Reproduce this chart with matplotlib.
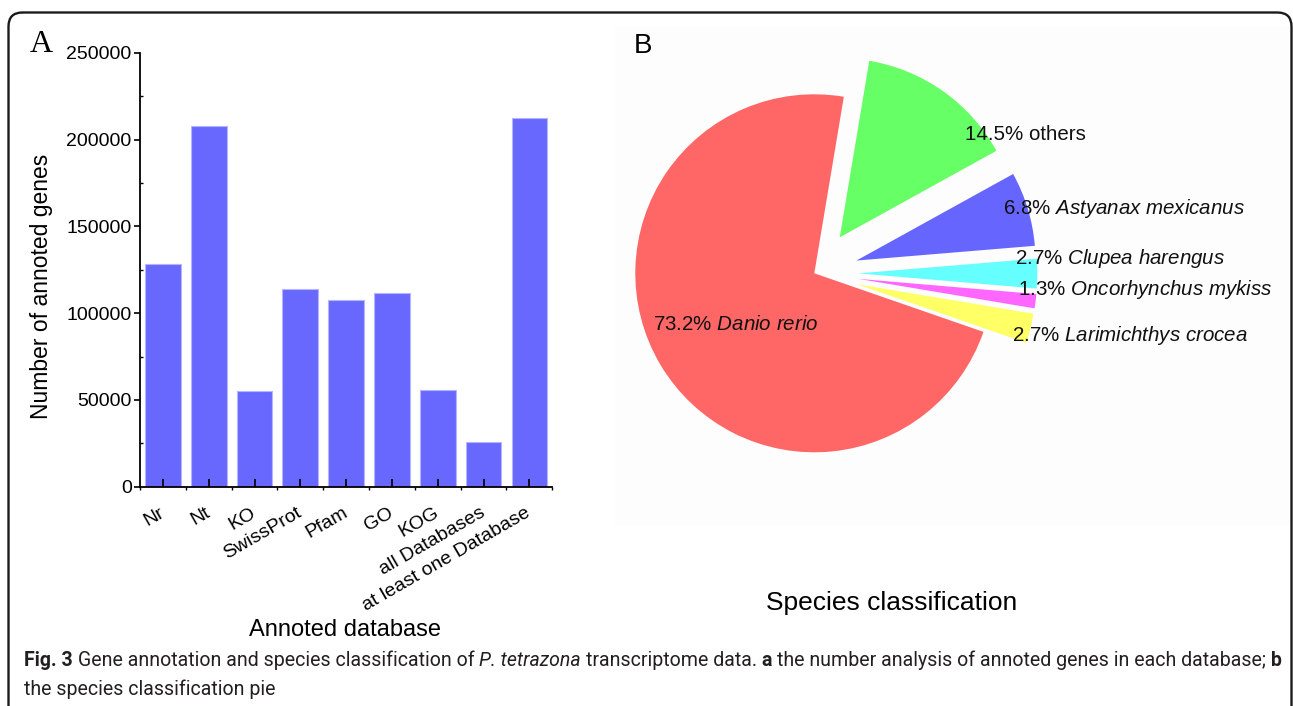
import matplotlib
matplotlib.use("Agg")
import matplotlib.pyplot as plt
from matplotlib import font_manager
from matplotlib.patches import FancyBboxPatch
from matplotlib.ticker import FixedLocator, MultipleLocator

# annotation counts per database
databases = ["Nr", "Nt", "KO", "SwissProt", "Pfam", "GO", "KOG",
             "all Databases", "at least one Database"]
gene_counts = [128100, 207800, 55000, 113900, 107500, 111400, 55500,
               25800, 212600]

# species classification (percent of annotated unigenes)
species = ["others", "Astyanax mexicanus", "Clupea harengus",
           "Oncorhynchus mykiss", "Larimichthys crocea", "Danio rerio"]
species_pct = [14.5, 6.8, 2.7, 1.3, 2.7, 73.2]
species_italic = [False, True, True, True, True, True]
species_colors = ["#66ff66", "#6666ff", "#66ffff", "#ff66ff", "#ffff66", "#ff6666"]
# where each pie label starts, in pie radius units
label_xy = [(0.842, 0.778), (1.052, 0.363), (1.121, 0.084),
            (1.138, -0.093), (1.104, -0.350), (-0.899, -0.285)]

caption_1 = [("Fig. 3", "b"), ("Gene annotation and species classification of", ""),
             ("P. tetrazona", "i"), ("transcriptome data.", ""), ("a", "b"),
             ("the number analysis of annoted genes in each database;", ""), ("b", "b")]
caption_2 = [("the species classification pie", "")]

plt.rcParams["font.family"] = ["Liberation Sans", "DejaVu Sans"]
plt.rcParams["mathtext.fontset"] = "custom"
plt.rcParams["mathtext.rm"] = "Liberation Sans"
plt.rcParams["mathtext.it"] = "Liberation Sans:italic"

W, H = 1293, 706
fig = plt.figure(figsize=(W / 100, H / 100), dpi=100)

# ---- A: bar chart ----
ax1 = fig.add_axes([140 / W, 1 - 486.7 / H, 412.3 / W, 434 / H])
x = range(len(databases))
ax1.bar(x, gene_counts, width=0.78, color="#6868ff", edgecolor="#b4b4ff", linewidth=0.8)
ax1.set_xlim(-0.5, len(databases) - 0.5)
ax1.set_ylim(0, 250000)
for s in ["top", "right"]:
    ax1.spines[s].set_visible(False)
for s in ["left", "bottom"]:
    ax1.spines[s].set_linewidth(1.3)
ax1.yaxis.set_major_locator(MultipleLocator(50000))
ax1.yaxis.set_minor_locator(MultipleLocator(25000))
ax1.tick_params(axis="y", which="major", direction="out", length=4, width=1.2,
                labelsize=14, pad=2)
ax1.tick_params(axis="y", which="minor", direction="in", length=2.5, width=1.0)
ax1.set_xticks(list(x))
ax1.xaxis.set_minor_locator(FixedLocator([i - 0.5 for i in range(len(databases) + 1)]))
ax1.tick_params(axis="x", which="major", direction="in", length=6, width=1.2,
                labelsize=14, pad=18)
ax1.tick_params(axis="x", which="minor", direction="out", length=2.5, width=1.0)
ax1.set_xticklabels(databases, rotation=30, ha="right", va="center",
                    rotation_mode="anchor")

# ---- B: pie chart ----
R = 179.0
cx, cy = 814.3, 273.3
px0, px1, py0, py1 = 615, 1290, 27, 525
ax2 = fig.add_axes([px0 / W, 1 - py1 / H, (px1 - px0) / W, (py1 - py0) / H])
ax2.pie(species_pct, explode=[0.246] * 5 + [0], colors=species_colors,
        startangle=80.5, counterclock=False, wedgeprops=dict(linewidth=0))
ax2.set_xlim((px0 - cx) / R, (px1 - cx) / R)
ax2.set_ylim((cy - py1) / R, (cy - py0) / R)
ax2.set_aspect("auto")
ax2.set_frame_on(True)
for s in ax2.spines.values():
    s.set_visible(False)
ax2.set_facecolor("#fdfdfd")
for name, pct, it, (lx, ly) in zip(species, species_pct, species_italic, label_xy):
    if it:
        label = f"{pct}% " + r"$\mathit{" + name.replace(" ", r"\ ") + "}$"
    else:
        label = f"{pct}% {name}"
    ax2.text(lx, ly, label, fontsize=14.8, ha="left", va="center", color="#111111")

# ---- frame, panel letters, axis titles, caption (pixel coordinates) ----
cv = fig.add_axes([0, 0, 1, 1], zorder=5)
cv.set_xlim(0, W)
cv.set_ylim(H, 0)
cv.axis("off")
cv.patch.set_visible(False)
cv.add_patch(FancyBboxPatch((8.5, 12.5), 1283, 760, boxstyle="round,pad=0,rounding_size=14",
                            fill=False, edgecolor="#1a1a1a", linewidth=1.7, clip_on=False))

cv.text(30, 51.5, "A", family="Liberation Serif", fontsize=23, ha="left", va="baseline")
cv.text(634, 53, "B", fontsize=20, ha="left", va="baseline")
cv.text(42, 286, "Number of annoted genes", fontsize=16.5, rotation=90,
        ha="center", va="center")
cv.text(345, 630, "Annoted database", fontsize=17, ha="center", va="center")
cv.text(892, 603, "Species classification", fontsize=19, ha="center", va="center")

names = {f.name for f in font_manager.fontManager.ttflist}
cap_font = "Liberation Sans Narrow" if "Liberation Sans Narrow" in names else "Roboto"
renderer = fig.canvas.get_renderer()


def rich_line(x0, y, parts, size):
    drawn = []
    xx = x0
    probe = cv.text(0, 0, "n n", fontsize=size, family=cap_font)
    probe2 = cv.text(0, 0, "nn", fontsize=size, family=cap_font)
    gap = (probe.get_window_extent(renderer).width
           - probe2.get_window_extent(renderer).width)
    probe.remove()
    probe2.remove()
    for txt, style in parts:
        t = cv.text(xx, y, txt, fontsize=size, family=cap_font,
                    fontweight="bold" if "b" in style else "normal",
                    fontstyle="italic" if "i" in style else "normal",
                    ha="left", va="baseline", color="#231f20")
        xx += t.get_window_extent(renderer).width + gap
        drawn.append(t)
    return drawn, xx - gap


# size the caption so its first line fits inside the frame
size = 12.0
for _ in range(3):
    first, right = rich_line(24, 666, caption_1, size)
    for t in first:
        t.remove()
    size *= (1282 - 24) / (right - 24)
rich_line(24, 666, caption_1, size)
rich_line(24, 695, caption_2, size)

fig.savefig("out.png", dpi=100)
